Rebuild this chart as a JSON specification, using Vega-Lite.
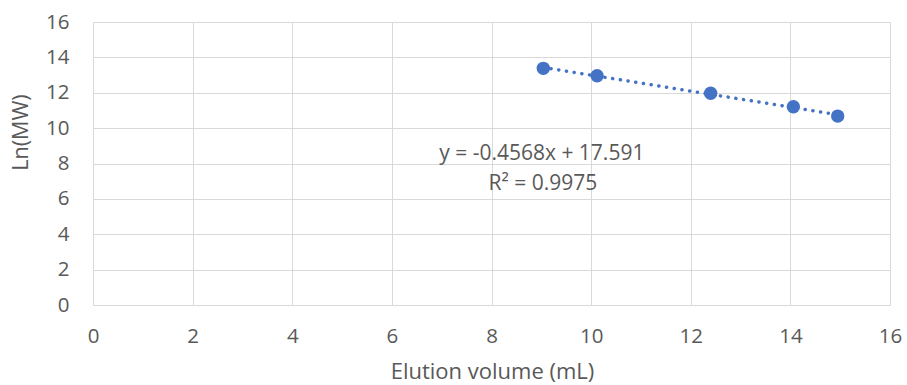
{
  "$schema": "https://vega.github.io/schema/vega-lite/v6.json",
  "width": 797,
  "height": 283,
  "autosize": {"type": "none"},
  "padding": {"left": 93, "top": 22, "right": 17, "bottom": 80},
  "background": "white",
  "config": {
    "view": {"stroke": null},
    "font": "Open Sans",
    "axis": {"labelOverlap": false, "labelFlush": false}
  },
  "datasets": {
    "pts": [
      {"vol": 9.04, "lnmw": 13.38},
      {"vol": 10.12, "lnmw": 12.96},
      {"vol": 12.4, "lnmw": 11.97},
      {"vol": 14.06, "lnmw": 11.21},
      {"vol": 14.95, "lnmw": 10.68}
    ],
    "labels": [
      {"vol": 9.01, "lnmw": 8.2, "txt": "y = -0.4568x + 17.591"},
      {"vol": 9.03, "lnmw": 6.5, "txt": "R² = 0.9975"}
    ]
  },
  "encoding": {
    "x": {
      "field": "vol", "type": "quantitative",
      "scale": {"domain": [0, 16], "nice": false, "zero": false},
      "axis": {
        "title": "Elution volume (mL)",
        "values": [0, 2, 4, 6, 8, 10, 12, 14, 16],
        "grid": true, "gridColor": "#d9d9d9", "gridWidth": 1,
        "domain": true, "domainColor": "#d9d9d9", "domainWidth": 1,
        "ticks": false, "labelFlush": false, "labelOverlap": false,
        "labelFont": "Open Sans", "labelFontSize": 20.5, "labelColor": "#595959",
        "labelBaseline": "alphabetic", "labelPadding": 37,
        "titleFont": "Open Sans", "titleFontSize": 22, "titleColor": "#595959", "titleFontWeight": "normal",
        "titleBaseline": "alphabetic", "titleY": 73, "titleX": 399, "titleAnchor": "middle", "titleAlign": "center"
      }
    },
    "y": {
      "field": "lnmw", "type": "quantitative",
      "scale": {"domain": [0, 16], "nice": false, "zero": false},
      "axis": {
        "title": "Ln(MW)",
        "values": [0, 2, 4, 6, 8, 10, 12, 14, 16],
        "tickCount": 9,
        "grid": true, "gridColor": "#d9d9d9", "gridWidth": 1,
        "domain": false, "ticks": false, "labelOverlap": false, "labelFlush": false,
        "labelFont": "Open Sans", "labelFontSize": 20.5, "labelColor": "#595959", "labelPadding": 24,
        "titleFont": "Open Sans", "titleFontSize": 21.5, "titleColor": "#595959", "titleFontWeight": "normal",
        "titleBaseline": "alphabetic", "titleAngle": -90, "titleX": -66, "titleY": 110, "titleAlign": "center"
      }
    }
  },
  "layer": [
    {
      "data": {"name": "pts"},
      "transform": [{"regression": "lnmw", "on": "vol"}],
      "mark": {"type": "line", "color": "#4472C4", "strokeWidth": 3.5, "strokeDash": [0.1, 7.7], "strokeCap": "round"}
    },
    {
      "data": {"name": "pts"},
      "mark": {"type": "circle", "color": "#4472C4", "opacity": 1, "size": 180}
    },
    {
      "data": {"name": "labels"},
      "mark": {"type": "text", "font": "Open Sans", "fontSize": 21, "color": "#595959", "align": "center", "baseline": "alphabetic"},
      "encoding": {
        "text": {"field": "txt"}
      }
    }
  ]
}
